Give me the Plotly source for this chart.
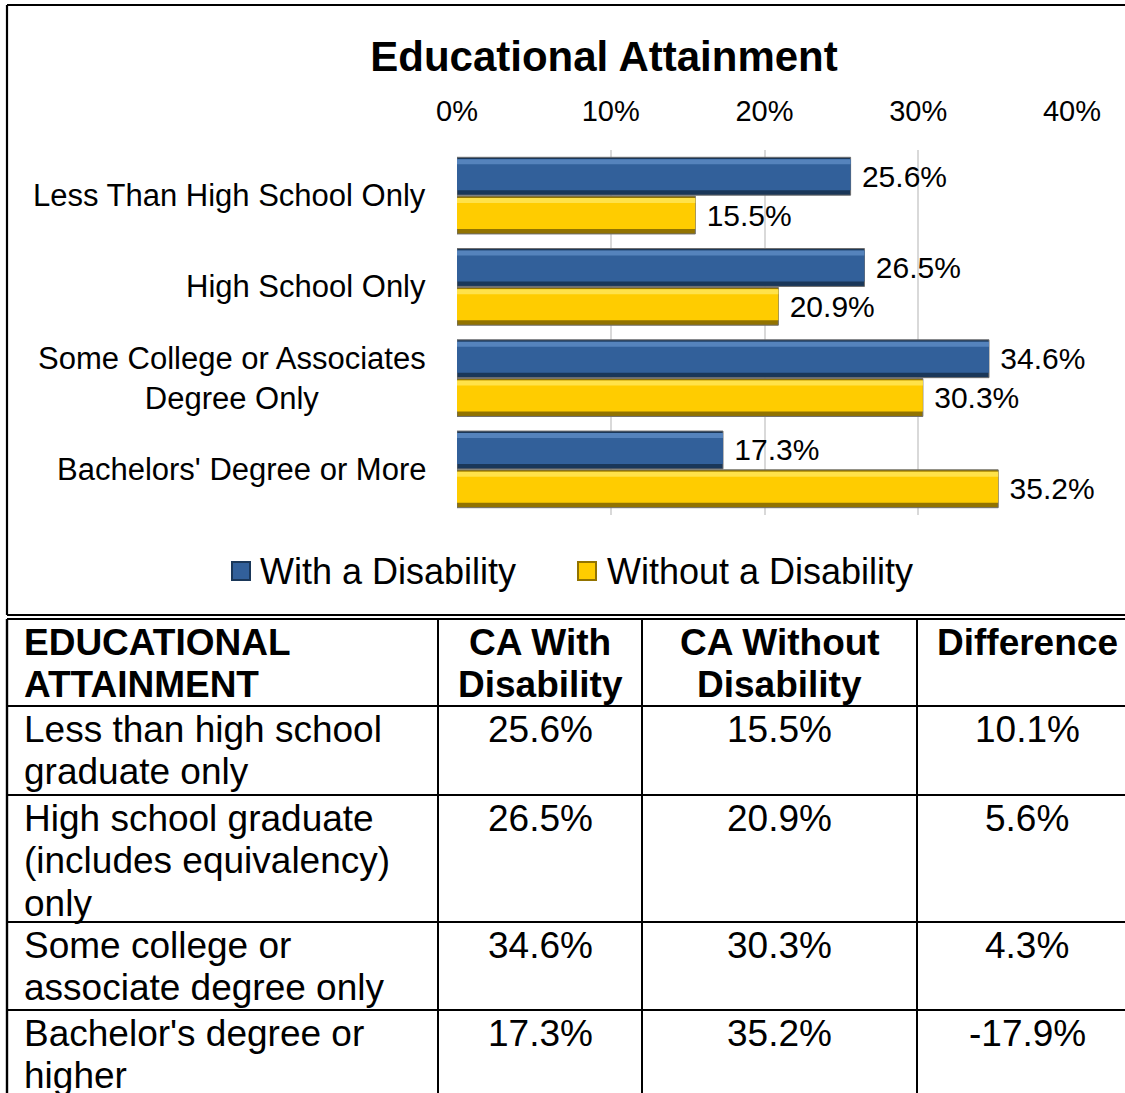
import plotly.graph_objects as go

# ---- data -------------------------------------------------------------
categories = [
    "Less Than High School Only",
    "High School Only",
    "Some College or Associates<br>Degree Only",
    "Bachelors' Degree or More",
]
with_disability = [25.6, 26.5, 34.6, 17.3]
without_disability = [15.5, 20.9, 30.3, 35.2]
series_names = ["With a Disability", "Without a Disability"]
x_ticks = [0, 10, 20, 30, 40]

table_header = ["EDUCATIONAL<br>ATTAINMENT", "CA With<br>Disability",
                "CA Without<br>Disability", "Difference"]
table_rows = [
    "Less than high school<br>graduate only",
    "High school graduate<br>(includes equivalency)<br>only",
    "Some college or<br>associate degree only",
    "Bachelor's degree or<br>higher",
]

# ---- page geometry (pixels) ------------------------------------------
W, H = 1125, 1093
FONT = "Arial, Liberation Sans, sans-serif"


def px(x):
    return x / W


def py(y):
    return 1 - y / H


BLUE = dict(edge="#1A3759", face="#32609A", light="#5583BC")
YELLOW = dict(edge="#927300", face="#FFCC00", light="#FFE24A")

fig = go.Figure()

# Bars are layered (dark body, face, light top band) for a bevelled look
bar_w = 0.415
unit = 1 / 91.25  # one pixel in category units
for vals, off, pal, name in [
    (with_disability, -0.42, BLUE, series_names[0]),
    (without_disability, 0.005, YELLOW, series_names[1]),
]:
    fig.add_trace(go.Bar(
        y=categories, x=vals, orientation="h", name=name,
        width=bar_w, offset=off,
        marker=dict(color=pal["edge"], line=dict(color="#6E6E6E", width=1)),
        texttemplate="\u00a0%{x:.1f}%", textposition="outside",
        textfont=dict(family=FONT, size=30, color="black"),
        cliponaxis=False, constraintext="none", showlegend=False,
    ))
    fig.add_trace(go.Bar(
        y=categories, x=vals, orientation="h", name=name,
        width=bar_w - 7 * unit, offset=off + 2 * unit,
        marker=dict(color=pal["face"], line=dict(width=0)),
        hoverinfo="skip", showlegend=False,
    ))
    fig.add_trace(go.Bar(
        y=categories, x=vals, orientation="h", name=name,
        width=5 * unit, offset=off + 2 * unit,
        marker=dict(color=pal["light"], line=dict(width=0)),
        hoverinfo="skip", showlegend=False,
    ))

fig.update_layout(
    width=W, height=H,
    margin=dict(l=0, r=0, t=0, b=0, pad=0, autoexpand=False),
    paper_bgcolor="white", plot_bgcolor="white",
    barmode="overlay",
    showlegend=False,
    font=dict(family=FONT, color="black"),
    title=dict(text="<b>Educational Attainment</b>", x=px(604), xanchor="center",
               y=py(56), yanchor="middle", xref="paper", yref="paper",
               font=dict(family=FONT, size=42, color="black")),
    xaxis=dict(domain=[px(457), px(1072)], range=[0, 40], side="top",
               tickvals=x_ticks, ticktext=[f"{v}%" for v in x_ticks],
               tickfont=dict(family=FONT, size=29, color="black"),
               showgrid=True, gridcolor="#D9D9D9", gridwidth=1.5,
               zeroline=False, showline=False, ticks="",
               ticklabelstandoff=22, automargin=False, fixedrange=True),
    yaxis=dict(domain=[py(515), py(150)], range=[3.5, -0.5],
               showticklabels=False, showgrid=False, zeroline=False,
               showline=False, ticks="", automargin=False, fixedrange=True),
)

annotations = []

# Category labels (right aligned block, lines centred within it)
for cat in categories:
    annotations.append(dict(
        x=px(428), xref="paper", xanchor="right", y=cat, yref="y",
        yanchor="middle", text=cat, align="center", showarrow=False,
        font=dict(family=FONT, size=31, color="black")))

# Legend
legend_items = [(232, 258, BLUE, series_names[0]),
                (578, 605, YELLOW, series_names[1])]
shapes = []
for sx, tx, pal, name in legend_items:
    shapes.append(dict(type="rect", xref="paper", yref="paper",
                       x0=px(sx), x1=px(sx + 18), y0=py(580), y1=py(562),
                       fillcolor=pal["face"], line=dict(color=pal["edge"], width=2)))
    annotations.append(dict(
        x=px(tx), xref="paper", xanchor="left", y=py(571), yref="paper",
        yanchor="middle", text=name, showarrow=False,
        font=dict(family=FONT, size=36, color="black")))

# Chart frame
line = dict(color="black", width=2.2)
for x0, y0, x1, y1 in [(7, 5, 1200, 5), (7, 5, 7, 615), (7, 615, 1200, 615)]:
    shapes.append(dict(type="line", xref="paper", yref="paper",
                       x0=px(x0), y0=py(y0), x1=px(x1), y1=py(y1), line=line))

# ---- table ------------------------------------------------------------
col_edges = [7, 438, 642, 917, 1137]
row_edges = [619, 706, 795, 922, 1010, 1200]
tbl_line = dict(color="black", width=2)
for yv in row_edges[:-1]:
    shapes.append(dict(type="line", xref="paper", yref="paper",
                       x0=px(7), x1=px(1200), y0=py(yv), y1=py(yv), line=tbl_line))
for xv in col_edges[:-1]:
    shapes.append(dict(type="line", xref="paper", yref="paper",
                       x0=px(xv), x1=px(xv), y0=py(619), y1=py(1200),
                       line=dict(color="black", width=2.4 if xv == 7 else 2)))

LINE_H, FIRST = 42.5, 23


def cell_text(text, col, row_top, bold=False):
    for i, part in enumerate(text.split("<br>")):
        yc = row_top + FIRST + LINE_H * i
        if col == 0:
            xa, xx = "left", col_edges[0] + 15
        else:
            xa, xx = "center", (col_edges[col] + col_edges[col + 1]) / 2
        annotations.append(dict(
            x=px(xx), xref="paper", xanchor=xa, y=py(yc), yref="paper",
            yanchor="middle", text=f"<b>{part}</b>" if bold else part,
            showarrow=False, font=dict(family=FONT, size=37, color="black")))


for c, h in enumerate(table_header):
    cell_text(h, c, row_edges[0], bold=True)

for r, label in enumerate(table_rows):
    top = row_edges[r + 1]
    diff = with_disability[r] - without_disability[r]
    cells = [label, f"{with_disability[r]:.1f}%",
             f"{without_disability[r]:.1f}%", f"{diff:.1f}%"]
    for c, t in enumerate(cells):
        cell_text(t, c, top)

fig.update_layout(annotations=annotations, shapes=shapes)
fig.write_html("out.html")
